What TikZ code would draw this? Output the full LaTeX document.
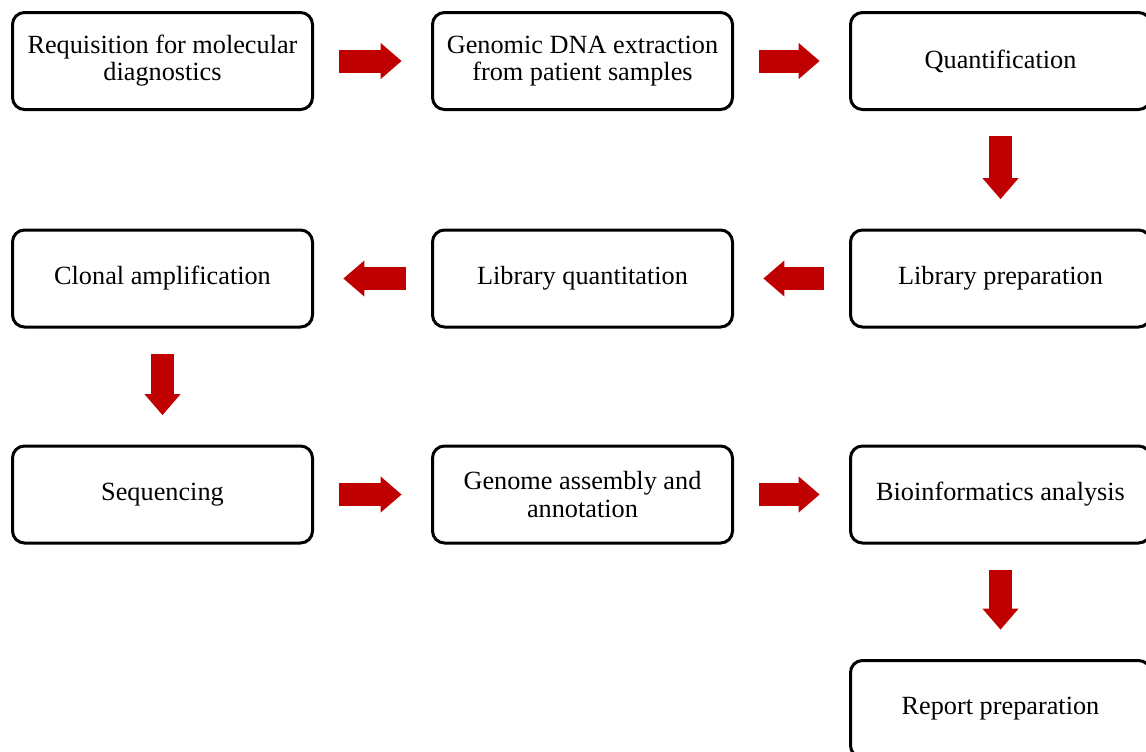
\documentclass[tikz,border=0pt]{standalone}
\usepackage{fontspec}
\setmainfont{Liberation Serif}
\usetikzlibrary{arrows.meta,shadows}
\definecolor{arrowred}{RGB}{192,0,0}
\begin{document}
\begin{tikzpicture}[x=0.75pt,y=-0.75pt,
  box/.style={draw=black, line width=2.25pt, rounded corners=9pt, fill=white,
    minimum width=225pt, minimum height=72.75pt, inner sep=0pt, align=center,
    font=\fontsize{19.7pt}{20.3pt}\selectfont,
    drop shadow={shadow xshift=1pt, shadow yshift=-1pt, opacity=0.2}},
  flow/.style={draw=arrowred, line width=17.25pt,
    -{Triangle[width=26pt,length=15.75pt]},
    shorten <=19pt, shorten >=22pt}]
\useasboundingbox (0,0) rectangle (1146,751);
\node[box] (req)  at (162.5,61)   {Requisition for molecular\\diagnostics};
\node[box] (dna)  at (582.5,61)   {Genomic DNA extraction\\from patient samples};
\node[box] (quan) at (1000.5,61)  {Quantification};
\node[box] (libp) at (1000.5,278.5) {Library preparation};
\node[box] (libq) at (582.5,278.5)  {Library quantitation};
\node[box] (clon) at (162.5,278.5)  {Clonal amplification};
\node[box] (seq)  at (162.5,494.5)  {Sequencing};
\node[box] (gen)  at (582.5,494.5)  {Genome assembly and\\annotation};
\node[box] (bio)  at (1000.5,494.5) {Bioinformatics analysis};
\node[box] (rep)  at (1000.5,709)   {Report preparation};
\draw[flow] (req) -- (dna);
\draw[flow] (dna) -- (quan);
\draw[flow] (quan) -- (libp);
\draw[flow] (libp) -- (libq);
\draw[flow] (libq) -- (clon);
\draw[flow] (clon) -- (seq);
\draw[flow] (seq) -- (gen);
\draw[flow] (gen) -- (bio);
\draw[flow] (bio) -- (rep);
\end{tikzpicture}
\end{document}
